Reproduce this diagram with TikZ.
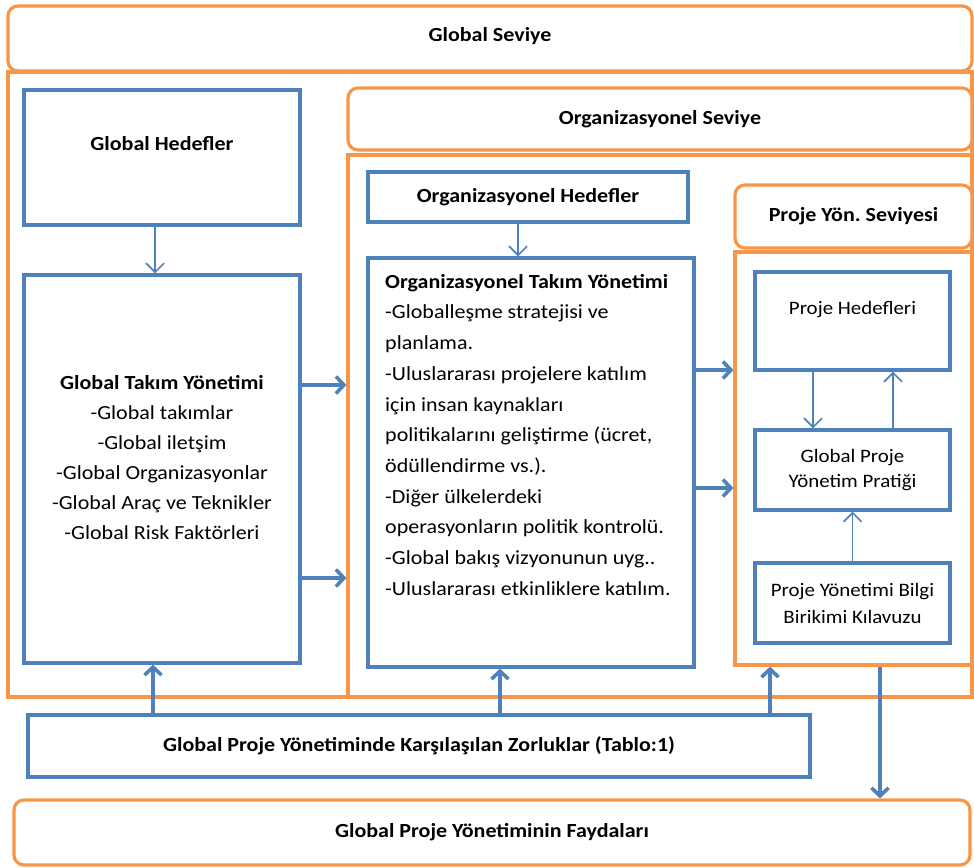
\documentclass[tikz,border=0pt]{standalone}
\usepackage{fontspec}
\setmainfont{Carlito}[FakeStretch=1.1]
\usetikzlibrary{arrows.meta}
\definecolor{boxblue}{RGB}{79,129,189}
\definecolor{lvlorange}{RGB}{247,150,70}
\frenchspacing

\begin{document}
\begin{tikzpicture}[x=1pt,y=-1pt,line join=miter,
  lvlhead/.style={draw=lvlorange,line width=3.2pt,rounded corners=10pt,fill=white,
    inner sep=0pt,font=\fontsize{20}{24}\selectfont\bfseries},
  lvlbody/.style={draw=lvlorange,line width=3.2pt,inner sep=0pt},
  bbox/.style={draw=boxblue,line width=3.2pt,fill=white,inner sep=0pt,
    font=\fontsize{19}{23}\selectfont},
  lnk/.style={draw=boxblue,line width=1.7pt,-{Straight Barb[length=9pt,width=18pt]}},
  biglnk/.style={draw=boxblue,line width=3.6pt,-{Straight Barb[length=8pt,width=17pt]}}]
\useasboundingbox (0,0) rectangle (974,867);
%%
% Node: globalbody
\node[lvlbody, minimum width=964pt, minimum height=625pt] (globalbody) at (490,384.5) {};
% Node: globalhead
\node[lvlhead, minimum width=964pt, minimum height=65pt, text depth=9pt] (globalhead) at (490,38.5) {Global Seviye};
% Node: orgbody
\node[lvlbody, minimum width=624pt, minimum height=542pt] (orgbody) at (660,426) {};
% Node: orghead
\node[lvlhead, minimum width=624pt, minimum height=62pt] (orghead) at (660,119) {Organizasyonel Seviye};
% Node: projebody
\node[lvlbody, minimum width=237pt, minimum height=413pt] (projebody) at (853.5,458.5) {};
% Node: projehead
\node[lvlhead, minimum width=237pt, minimum height=63pt] (projehead) at (853.5,216.5) {Proje Yön. Seviyesi};
%
% Node: ghedef
\node[bbox, minimum width=276pt, minimum height=135pt,
  label={[yshift=14pt,font=\fontsize{20}{24}\selectfont\bfseries]center:Global Hedefler}] (ghedef) at (162,157.5) {};
% Node: gtakim
\node[bbox, minimum width=276pt, minimum height=388pt] (gtakim) at (162,469) {};
\node[align=center, inner sep=0pt, font=\fontsize{20}{30}\selectfont] (gtakimtxt) at (162,458)
  {\textbf{Global Takım Yönetimi}\\-Global takımlar\\-Global iletşim\\-Global Organizasyonlar\\
   -Global Araç ve Teknikler\\-Global Risk Faktörleri};
% Node: ohedef
\node[bbox, minimum width=320pt, minimum height=50pt, font=\fontsize{20}{24}\selectfont\bfseries] (ohedef) at (528,197) {Organizasyonel Hedefler};
% Node: otakim
\node[bbox, minimum width=326pt, minimum height=409pt] (otakim) at (531,462.5) {};
\node[align=left, inner sep=0pt, anchor=north west, font=\fontsize{20}{30.7}\selectfont] (otakimtxt) at (385,274)
  {\textbf{Organizasyonel Takım Yönetimi}\\-Globalleşme stratejisi ve\\planlama.\\
   -Uluslararası projelere katılım\\için insan kaynakları\\politikalarını geliştirme (ücret,\\
   ödüllendirme vs.).\\-Diğer ülkelerdeki\\operasyonların politik kontrolü.\\
   -Global bakış vizyonunun uyg..\\-Uluslararası etkinliklere katılım.};
% Node: phedef
\node[bbox, minimum width=195pt, minimum height=98pt,
  label={[yshift=11pt,font=\fontsize{19}{23}\selectfont]center:Proje Hedefleri}] (phedef) at (852.5,321) {};
% Node: ppratik
\node[bbox, minimum width=195pt, minimum height=80pt, align=center,
  font=\fontsize{19}{25}\selectfont] (ppratik) at (852.5,470) {Global Proje\\Yönetim Pratiği};
% Node: pbilgi
\node[bbox, minimum width=195pt, minimum height=80pt, align=center,
  font=\fontsize{19}{27}\selectfont] (pbilgi) at (852.5,603) {Proje Yönetimi Bilgi\\Birikimi Kılavuzu};
% Node: zor
\node[bbox, minimum width=782pt, minimum height=62pt, font=\fontsize{20}{24}\selectfont\bfseries] (zor) at (419,746)
  {Global Proje Yönetiminde Karşılaşılan Zorluklar (Tablo:1)};
% Node: fayda
\node[lvlhead, minimum width=956pt, minimum height=65pt] (fayda) at (492,832.5) {Global Proje Yönetiminin Faydaları};
%
% Edge: ghedef -> gtakim
\draw[lnk] (ghedef.south -| 155,0) -- (gtakim.north -| 155,0);
% Edge: ohedef -> otakim
\draw[lnk] (ohedef.south -| 518,0) -- (otakim.north -| 518,0);
% Edge: phedef -> ppratik
\draw[lnk] (phedef.south -| 813,0) -- (ppratik.north -| 813,0);
% Edge: ppratik -> phedef
\draw[lnk] (ppratik.north -| 893,0) -- (phedef.south -| 893,0);
% Edge: pbilgi -> ppratik
\draw[lnk] (pbilgi.north) -- (ppratik.south);
% Edge: gtakim -> orgbody
\draw[biglnk] (gtakim.east |- 0,385) -- (orgbody.west |- 0,385);
\draw[biglnk] (gtakim.east |- 0,578) -- (orgbody.west |- 0,578);
% Edge: otakim -> projebody
\draw[biglnk] (otakim.east |- 0,370) -- (projebody.west |- 0,370);
\draw[biglnk] (otakim.east |- 0,488) -- (projebody.west |- 0,488);
% Edge: zor -> gtakim, otakim, projebody
\draw[biglnk] (zor.north -| 153,0) -- (gtakim.south -| 153,0);
\draw[biglnk] (zor.north -| 500,0) -- (otakim.south -| 500,0);
\draw[biglnk] (zor.north -| 770,0) -- (projebody.south -| 770,0);
% Edge: projebody -> fayda
\draw[biglnk] (projebody.south -| 880,0) -- (fayda.north -| 880,0);
%
\end{tikzpicture}
\end{document}
